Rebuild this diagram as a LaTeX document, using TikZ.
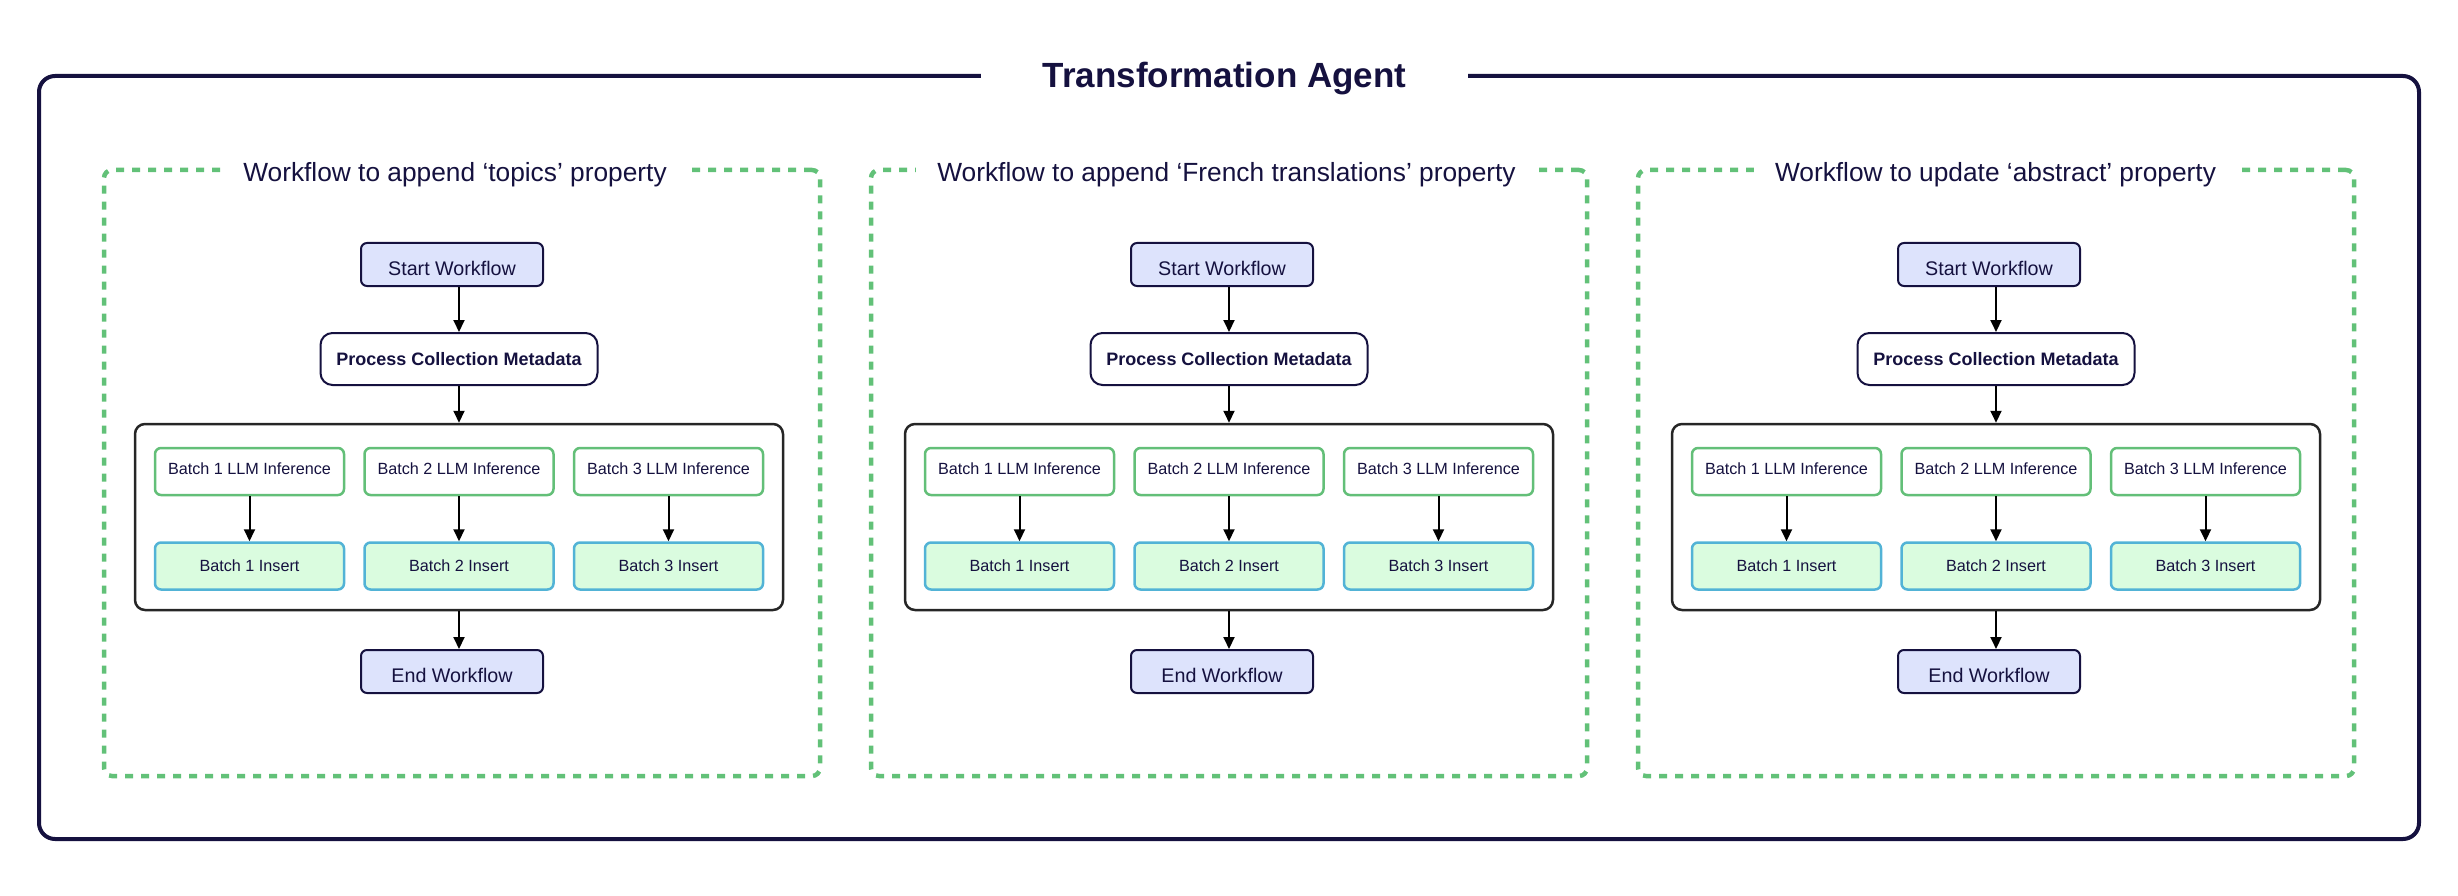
\documentclass[tikz,border=0pt]{standalone}
\usepackage{fontspec}
\setmainfont{Liberation Sans}
\usetikzlibrary{arrows.meta}
\definecolor{navy}{HTML}{15113F}
\definecolor{lav}{HTML}{DDE3FC}
\definecolor{dgreen}{HTML}{62C178}
\definecolor{lgreen}{HTML}{63BF78}
\definecolor{skyb}{HTML}{52B3D6}
\definecolor{mint}{HTML}{DAFCDF}
\begin{document}
\begin{tikzpicture}[x=1pt,y=-1pt,
 outerbox/.style={draw=navy,line width=4pt,rounded corners=16pt,minimum width=2380pt,minimum height=763pt,inner sep=0pt},
 panelbox/.style={draw=dgreen,line width=4.5pt,dash pattern=on 8pt off 8pt,rounded corners=8pt,minimum width=716pt,minimum height=606pt,inner sep=0pt},
 ttl/.style={fill=white,text=navy,minimum width=487pt,inner ysep=2pt,anchor=base,font=\fontsize{35pt}{40pt}\selectfont\bfseries},
 ptitle/.style={fill=white,text=navy,inner xsep=21pt,inner ysep=2pt,anchor=base,font=\fontsize{26.3pt}{30pt}\selectfont},
 sebox/.style={draw=navy,fill=lav,line width=2pt,rounded corners=6pt,minimum width=182pt,minimum height=43pt,text=navy,font=\fontsize{19.7pt}{23pt}\selectfont,inner sep=0pt,text height=21pt,text depth=0pt},
 procbox/.style={draw=navy,fill=white,line width=2pt,rounded corners=12pt,minimum width=277pt,minimum height=52pt,text=navy,font=\fontsize{18pt}{22pt}\selectfont\bfseries,inner sep=0pt},
 contbox/.style={draw=black!85,line width=2.5pt,rounded corners=10pt,minimum width=648pt,minimum height=186pt,inner sep=0pt},
 llmbox/.style={draw=lgreen,fill=white,line width=2.5pt,rounded corners=6pt,minimum width=189pt,minimum height=47pt,text=navy,font=\fontsize{16.2pt}{20pt}\selectfont,inner sep=0pt,text height=11.6pt,text depth=5pt},
 insbox/.style={llmbox,draw=skyb,fill=mint,text height=11.6pt,text depth=0pt},
 arr/.style={-{Triangle[length=12pt,width=11pt]},line width=2pt,black}]
\useasboundingbox (0,0) rectangle (2458,896);
\node[outerbox] (agent) at (1229,457.5) {};
\node[ttl] (agenttitle) at (1224.5,88) {Transformation Agent};
\foreach \i/\P/\C/\T/\name in {1/462/459/455/{Workflow to append ‘topics’ property},
                               2/1229/1229/1226.5/{Workflow to append ‘French translations’ property},
                               3/1996/1996/1995.5/{Workflow to update ‘abstract’ property}}{
  \node[panelbox] (wf\i) at (\P,473) {};
  \node[ptitle] (wt\i) at (\T,182) {\name};
  \node[sebox] (s\i) at (\C-7,264.5) {Start Workflow};
  \node[procbox] (p\i) at (\C,359) {Process Collection Metadata};
  \node[contbox] (c\i) at (\C,517) {};
  \foreach \j/\dx in {1/-209.5,2/0,3/209.5}{
    \node[llmbox] (l\i\j) at (\C+\dx,471.5) {Batch \j{} LLM Inference};
    \node[insbox] (n\i\j) at (\C+\dx,566) {Batch \j{} Insert};
    \draw[arr] (l\i\j.south) -- (n\i\j.north);
  }
  \node[sebox] (e\i) at (\C-7,671.5) {End Workflow};
  \draw[arr] (s\i.south -| p\i.north) -- (p\i.north);
  \draw[arr] (p\i.south) -- (c\i.north);
  \draw[arr] (c\i.south) -- (c\i.south |- e\i.north);
}
\end{tikzpicture}
\end{document}
